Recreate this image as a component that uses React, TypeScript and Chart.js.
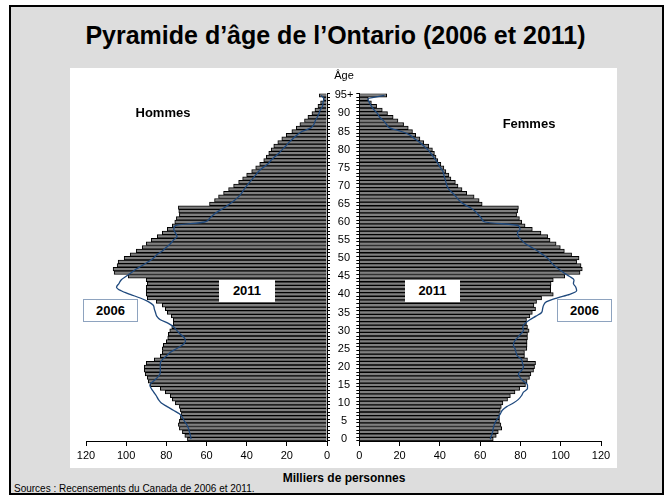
import React, { useEffect, useRef } from 'react';
import { Chart, registerables } from 'chart.js';

Chart.register(...registerables);

const FONT = '"Liberation Sans", Arial, sans-serif';

// Age categories 0..94 and "95+"
const ageLabels: string[] = Array.from({ length: 96 }, (_, i) => (i === 95 ? '95+' : String(i)));

// Thousands of persons, index = age (0 .. 95+)
const menValues2011 = [
  69.5, 70.8, 72, 73.5, 74, 73.5, 73, 72.5, 73, 73.5,
  75.5, 77, 78, 80.5, 83, 88, 89, 89.5, 90.5, 91,
  91, 90, 86, 83, 82, 82, 81.5, 80, 79.3, 79,
  78.3, 77.3, 76.5, 76.5, 77.5, 79.5, 80.5, 82, 85, 89.5,
  90, 90, 90, 89.5, 90, 99, 106, 106.5, 104.5, 104,
  101, 98, 95, 92, 90, 87.5, 84.5, 82, 79.5, 77,
  75.8, 75, 73.5, 73.8, 74, 58.5, 56, 54, 51.5, 49,
  46.5, 44, 42, 40, 37.5, 35.5, 33.5, 31.5, 30.2, 29,
  27.8, 26.5, 24.5, 22.5, 20.3, 17.5, 15.3, 13.5, 11.2, 9.5,
  7.5, 6, 4.5, 3.2, 1.8, 3.8,
];

const womenValues2011 = [
  66.5, 68, 69, 70.7, 70.3, 69.6, 69.6, 69.6, 70, 70.5,
  71.3, 73.6, 75, 77.3, 79.6, 82.5, 83.3, 84.5, 85.2, 86.5,
  87, 87.5, 83.5, 82, 82, 83.2, 83.3, 83.3, 83.5, 83.5,
  84.3, 83.5, 83, 83, 84.7, 85.9, 87.5, 86.7, 88, 90.5,
  96.3, 95, 95, 95.2, 96.3, 102, 109.6, 110.7, 110.1, 107.9,
  109.1, 105.4, 101.8, 99.8, 97.7, 94.7, 93.5, 90.2, 85.9, 82.3,
  80.6, 79.5, 78.1, 78.6, 79, 61, 59.5, 57, 53.3, 51,
  49, 47.7, 45.5, 44.5, 43, 42, 40.5, 39, 38.1, 37.3,
  36.3, 34.5, 32, 30.1, 28, 26.4, 24.3, 22, 19.2, 16.8,
  14, 11.4, 8.6, 6, 4.5, 13.6,
];

const menValues2006 = [
  67.7, 68, 68.5, 69, 69.8, 71, 72, 73.5, 76.5, 79.6,
  82.5, 84, 85, 86.3, 87.5, 88.2, 86.5, 84.5, 83.2, 83,
  83, 83, 82, 80, 78, 75, 72, 70.5, 71, 73,
  74.7, 76.3, 79, 83, 84.8, 85.4, 86, 86.5, 89, 93,
  98, 102.5, 104.8, 103.6, 102.5, 100, 97.5, 95, 92, 89,
  86.5, 84.6, 82, 80, 78, 76.5, 74.7, 75.5, 76.3, 75.5,
  61, 58.5, 56.5, 54, 51, 48.5, 46, 44, 42.5, 41.3,
  40, 38.5, 37, 35.5, 34, 32, 29.5, 28, 26, 24,
  22.3, 20.5, 19, 17, 15, 12.5, 8, 6.5, 5.8, 4.8,
  4, 3.3, 2.2, 2, 1.5, 3,
];

const womenValues2006 = [
  65, 65.6, 66.2, 66.5, 67, 67.8, 69, 70, 71, 73.2,
  76.5, 79, 80.5, 81.5, 83.5, 83.5, 81.5, 79.8, 79, 80.6,
  81.5, 81, 80.6, 78.5, 77.8, 77.3, 76.5, 77, 78.5, 80,
  81.5, 81.1, 82.3, 84.7, 87.7, 90.5, 91, 91.5, 93, 98,
  104.5, 107.9, 107.5, 106.3, 106.6, 104.3, 101.5, 99, 96.7, 95,
  93.5, 91, 88.5, 85.5, 82.5, 80.6, 79, 78.5, 79.8, 79,
  62.4, 60.7, 59.1, 57.5, 55, 51.7, 49.5, 48, 46.3, 44.5,
  43.5, 43, 42.5, 42, 41.5, 40.3, 39.2, 38.1, 36.8, 35.5,
  34, 32, 30, 27.5, 25.2, 21, 15, 13.5, 12, 10,
  9, 7.3, 6, 5, 4.3, 12.5,
];

const xTickValues = [0, 20, 40, 60, 80, 100, 120];

const BAR_FILL = '#7f7f7f';
const LINE_COLOR = '#1F497D';

function buildChart(canvas: HTMLCanvasElement, isLeft: boolean) {
  const barValues = isLeft ? menValues2011 : womenValues2011;
  const lineValues = isLeft ? menValues2006 : womenValues2006;
  return new Chart(canvas, {
    type: 'bar',
    data: {
      labels: ageLabels,
      datasets: [
        {
          type: 'line',
          label: '2006',
          data: lineValues,
          borderColor: LINE_COLOR,
          borderWidth: 1.3,
          pointRadius: 0,
          cubicInterpolationMode: 'monotone',
          fill: false,
          order: 0,
        } as any,
        {
          type: 'bar',
          label: '2011',
          data: barValues,
          backgroundColor: BAR_FILL,
          borderColor: '#000000',
          borderWidth: 1,
          borderSkipped: 'start',
          barPercentage: 1,
          categoryPercentage: 1,
          order: 1,
        } as any,
      ],
    },
    options: {
      indexAxis: 'y',
      animation: false,
      responsive: false,
      devicePixelRatio: 1,
      layout: {
        padding: isLeft
          ? { left: 16, right: 0, top: 23.5, bottom: 0 }
          : { left: 0, right: 16, top: 23.5, bottom: 0 },
      },
      plugins: {
        legend: { display: false },
        tooltip: { enabled: false },
        title: { display: false },
      },
      scales: {
        x: {
          type: 'linear',
          min: 0,
          max: 120,
          reverse: isLeft,
          afterBuildTicks: (scale: any) => {
            scale.ticks = xTickValues.map((v) => ({ value: v }));
          },
          afterFit: (scale: any) => {
            scale.height = 29;
          },
          ticks: {
            color: '#000',
            font: { family: FONT, size: 11 },
            padding: 3,
            maxRotation: 0,
            autoSkip: false,
          },
          grid: {
            drawOnChartArea: false,
            drawTicks: true,
            tickLength: 5,
            color: '#000',
          },
          border: { color: '#000', width: 1 },
        },
        y: {
          type: 'category',
          position: isLeft ? 'right' : 'left',
          reverse: true,
          offset: true,
          afterFit: (scale: any) => {
            scale.width = isLeft ? 5 : 29.3;
          },
          ticks: {
            display: !isLeft,
            autoSkip: false,
            color: '#000',
            font: { family: FONT, size: 11 },
            padding: 3,
            crossAlign: 'center',
            callback: (_v: any, i: number) => (i % 5 === 0 || i === 95 ? ageLabels[i] : ''),
          },
          grid: {
            offset: true,
            drawOnChartArea: false,
            drawTicks: true,
            tickLength: 3,
            color: '#000',
          },
          border: { color: '#000', width: 1 },
        },
      },
    } as any,
  });
}

const abs = (o: React.CSSProperties): React.CSSProperties => ({ position: 'absolute', ...o });

function CenterText(props: {
  cx: number;
  cy: number;
  size: number;
  bold?: boolean;
  children: React.ReactNode;
}) {
  const lh = Math.round(props.size * 1.3);
  return (
    <div
      style={abs({
        left: props.cx - 320,
        width: 640,
        top: props.cy - lh / 2,
        height: lh,
        lineHeight: lh + 'px',
        textAlign: 'center',
        fontFamily: FONT,
        fontSize: props.size,
        fontWeight: props.bold ? 'bold' : 'normal',
        color: '#000',
        whiteSpace: 'nowrap',
      })}
    >
      {props.children}
    </div>
  );
}

function LabelBox(props: { left: number; top: number; w: number; h: number; border?: string; text: string }) {
  return (
    <div
      style={abs({
        left: props.left,
        top: props.top,
        width: props.w,
        height: props.h,
        boxSizing: 'border-box',
        background: '#fff',
        border: props.border ? `1px solid ${props.border}` : 'none',
        fontFamily: FONT,
        fontWeight: 'bold',
        fontSize: 13,
        lineHeight: (props.h - (props.border ? 2 : 0)) + 'px',
        textAlign: 'center',
        color: '#000',
      })}
    >
      {props.text}
    </div>
  );
}

export default function App() {
  const leftRef = useRef<HTMLCanvasElement>(null);
  const rightRef = useRef<HTMLCanvasElement>(null);

  useEffect(() => {
    Chart.defaults.font.family = FONT;
    const left = buildChart(leftRef.current!, true);
    const right = buildChart(rightRef.current!, false);
    return () => {
      left.destroy();
      right.destroy();
    };
  }, []);

  return (
    <div style={abs({ left: 0, top: 0, width: 670, height: 496, overflow: 'hidden' })}>
      <div
        style={abs({
          left: 9,
          top: 5,
          width: 655,
          height: 490,
          boxSizing: 'border-box',
          border: '2px solid #000',
          background: '#dddddd',
        })}
      />
      <div style={abs({ left: 70, top: 68, width: 547, height: 400, background: '#ffffff' })} />

      <CenterText cx={335.5} cy={35} size={25} bold>
        Pyramide d’âge de l’Ontario (2006 et 2011)
      </CenterText>

      <canvas ref={leftRef} width={262} height={400} style={abs({ left: 70, top: 70, width: 262, height: 400 })} />
      <canvas ref={rightRef} width={287} height={400} style={abs({ left: 330, top: 70, width: 287, height: 400 })} />

      <CenterText cx={344} cy={75} size={11}>
        Âge
      </CenterText>
      <CenterText cx={163} cy={112} size={13} bold>
        Hommes
      </CenterText>
      <CenterText cx={529} cy={123} size={13} bold>
        Femmes
      </CenterText>

      <LabelBox left={219} top={280} w={56} h={22} text="2011" />
      <LabelBox left={405} top={280} w={55} h={22} text="2011" />
      <LabelBox left={83} top={299} w={55} h={23} border="#8EA3BF" text="2006" />
      <LabelBox left={557} top={299} w={55} h={23} border="#8EA3BF" text="2006" />

      <CenterText cx={344} cy={478} size={12} bold>
        Milliers de personnes
      </CenterText>
      <div
        style={abs({
          left: 14,
          top: 483,
          height: 12,
          lineHeight: '12px',
          fontFamily: FONT,
          fontSize: 10,
          color: '#000',
          whiteSpace: 'nowrap',
        })}
      >
        Sources : Recensements du Canada de 2006 et 2011.
      </div>
    </div>
  );
}
